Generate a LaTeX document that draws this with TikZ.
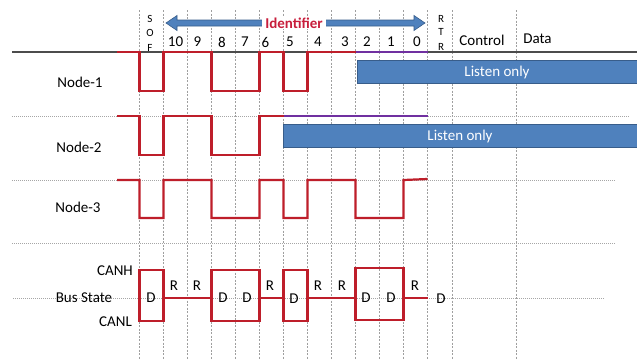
\documentclass[tikz,border=0pt]{standalone}
\usepackage{fontspec}
\setmainfont{Carlito}
\definecolor{sigred}{RGB}{190,30,42}
\definecolor{sigpurple}{RGB}{112,48,160}
\definecolor{lblue}{RGB}{79,129,189}
\definecolor{dblue}{RGB}{56,93,138}
\definecolor{idred}{RGB}{200,30,60}
\begin{document}
\begin{tikzpicture}[x=1pt,y=-1pt,
  gridline/.style={gray!75, line width=0.6pt, dash pattern=on 2pt off 1.5pt},
  hdot/.style={gray!70, line width=0.7pt, dash pattern=on 1pt off 1pt},
  sig/.style={sigred, line width=2.2pt, line join=miter},
  pur/.style={sigpurple, line width=2pt},
  lbl/.style={font=\fontsize{15}{15}\selectfont, inner sep=0pt},
  bitlbl/.style={font=\fontsize{15}{15}\selectfont, inner sep=0pt},
  tiny/.style={font=\fontsize{11}{11}\selectfont, inner sep=0pt},
  listen/.style={fill=lblue, draw=dblue, line width=0.6pt},
  lsttext/.style={font=\fontsize{15}{15}\selectfont, text=white, inner sep=0pt},
]
\useasboundingbox (0,0) rectangle (637,359);
\fill[white] (0,0) rectangle (637,359);

% vertical grid
\foreach \x in {139.5,163.5,187.5,211.5,235.5,259.5,283.5,307.5,331.5,355.5,379.5,403.5,427.5,452,516}
  \draw[gridline] (\x,10) -- (\x,359);

% horizontal dotted lines
\draw[hdot] (12,116) -- (630,116);
\draw[hdot] (12,180) -- (615,180);
\draw[hdot] (12,243) -- (615,243);
\draw[hdot] (13,298) -- (605,298);

% header letters (clipped by the axis line)
\begin{scope}
\clip (0,0) rectangle (637,51);
\node[tiny] (s1) at (150,19) {S};
\node[tiny] (o1) at (150,33) {O};
\node[tiny] (f1) at (150,48) {F};
\node[tiny] (r1) at (441,19) {R};
\node[tiny] (t1) at (441,32) {T};
\node[tiny] (r2) at (441,47) {R};
\end{scope}

% axis line
\draw[black!70, line width=1.3pt] (12,52) -- (637,52);

% identifier arrow
\draw[fill=lblue, draw=dblue, line width=0.6pt]
  (166,23) -- (177,15.5) -- (177,20) -- (414,20) -- (414,15.5) -- (425,23)
  -- (414,30.5) -- (414,26) -- (177,26) -- (177,30.5) -- cycle;
\node[fill=white, inner xsep=3pt, inner ysep=1pt, text=idred,
      font=\fontsize{15}{15}\selectfont\bfseries] (ident) at (294,23) {Identifier};

% bit numbers
\node[bitlbl] (b10) at (175.5,42) {10};
\node[bitlbl] (b9) at (197.5,42) {9};
\node[bitlbl] (b8) at (222,42) {8};
\node[bitlbl] (b7) at (245,42) {7};
\node[bitlbl] (b6) at (265.5,42) {6};
\node[bitlbl] (b5) at (290,42) {5};
\node[bitlbl] (b4) at (318,42) {4};
\node[bitlbl] (b3) at (345,42) {3};
\node[bitlbl] (b2) at (367,42) {2};
\node[bitlbl] (b1) at (391,42) {1};
\node[bitlbl] (b0) at (417,42) {0};
\node[lbl] (ctrl) at (482,40) {Control};
\node[lbl] (data) at (537.5,39) {Data};

% listen-only bars
\draw[listen] (357,60) rectangle (637,83);
\node[lsttext] (lo1) at (497,72) {Listen only};
\draw[listen] (283.5,124) rectangle (637,147);
\node[lsttext] (lo2) at (460,136) {Listen only};

% node labels
\node[lbl] (n1) at (80,82) {Node-1};
\node[lbl] (n2) at (79,147) {Node-2};
\node[lbl] (n3) at (78,207) {Node-3};

% Node-1 signal
\draw[sig] (117,52) -- (139.5,52) -- (139.5,91) -- (163.5,91) -- (163.5,52)
  -- (211.5,52) -- (211.5,91) -- (259.5,91) -- (259.5,52) -- (283.5,52)
  -- (283.5,91) -- (307.5,91) -- (307.5,52) -- (355.5,52);
\draw[pur] (355.5,52) -- (427.5,52);

% Node-2 signal
\draw[sig] (117,116) -- (139.5,116) -- (139.5,155) -- (163.5,155) -- (163.5,116)
  -- (211.5,116) -- (211.5,155) -- (259.5,155) -- (259.5,116) -- (283.5,116);
\draw[pur] (283.5,116) -- (427.5,116);

% Node-3 signal
\draw[sig] (117,180) -- (139.5,180) -- (139.5,218) -- (163.5,218) -- (163.5,180)
  -- (211.5,180) -- (211.5,218) -- (259.5,218) -- (259.5,180) -- (283.5,180)
  -- (283.5,218) -- (307.5,218) -- (307.5,180) -- (355.5,180) -- (355.5,218)
  -- (403.5,218) -- (403.5,180) -- (427.5,179);

% bus labels
\node[lbl, anchor=east] (canh) at (133,271) {CANH};
\node[lbl] (bus) at (84,298) {Bus State};
\node[lbl, anchor=east] (canl) at (132,322) {CANL};

% bus state
\draw[sig] (139.5,270) rectangle (163.5,321);
\draw[sig] (211.5,270) rectangle (259.5,321);
\draw[sig] (283.5,270) rectangle (307.5,321);
\draw[sig] (355.5,268) rectangle (403.5,320);
\draw[sig] (163.5,298) -- (211.5,298);
\draw[sig] (259.5,298) -- (283.5,298);
\draw[sig] (307.5,298) -- (355.5,298);
\draw[sig] (403.5,298) -- (427.5,298);

\node[lbl] (d1) at (151,298) {D};
\node[lbl] (d2) at (223,298) {D};
\node[lbl] (d3) at (247,298) {D};
\node[lbl] (d4) at (294,299) {D};
\node[lbl] (d5) at (366,298) {D};
\node[lbl] (d6) at (391,298) {D};
\node[lbl] (d7) at (441,299) {D};
\node[lbl] (r1b) at (174,286) {R};
\node[lbl] (r2b) at (197,286) {R};
\node[lbl] (r3b) at (270,286) {R};
\node[lbl] (r4b) at (318,286) {R};
\node[lbl] (r5b) at (342,286) {R};
\node[lbl] (r6b) at (415,286) {R};
\end{tikzpicture}
\end{document}
